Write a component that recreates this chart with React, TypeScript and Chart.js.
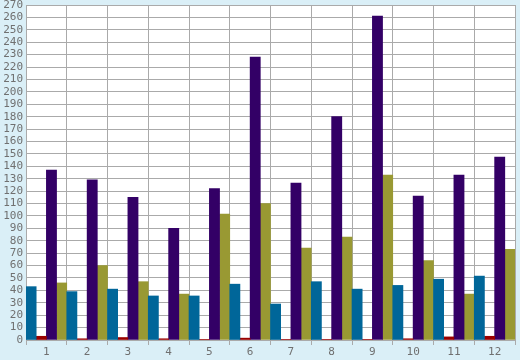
import React, { useEffect, useRef } from "react";
import { Chart, registerables } from "chart.js";

Chart.register(...registerables);

const categories = ["1", "2", "3", "4", "5", "6", "7", "8", "9", "10", "11", "12"];
const blueValues = [43, 39, 41, 35.5, 35.5, 45, 29, 47, 41, 44, 49, 51.5];
const redValues = [3, 1, 2, 1, 0.5, 1.5, 0.5, 0.5, 0.5, 1, 2.5, 3];
const purpleValues = [137, 129, 115, 90, 122, 228, 126.5, 180, 261, 116, 133, 147.5];
const oliveValues = [46, 60, 47, 37, 101.5, 110, 74, 83, 133, 64, 37, 73];

const bgPlugin = {
  id: "bgPlugin",
  beforeDraw(chart: any) {
    const { ctx, chartArea } = chart;
    ctx.save();
    ctx.fillStyle = "#daeff7";
    ctx.fillRect(0, 0, chart.width, chart.height);
    ctx.fillStyle = "#ffffff";
    ctx.fillRect(chartArea.left, chartArea.top, chartArea.right - chartArea.left, chartArea.bottom - chartArea.top);
    ctx.restore();
  },
};

export default function App() {
  const ref = useRef<HTMLCanvasElement>(null);
  useEffect(() => {
    const font = { family: "'DejaVu Sans Mono', monospace", size: 11 };
    const chart = new Chart(ref.current!, {
      type: "bar",
      data: {
        labels: categories,
        datasets: [
          { data: blueValues, backgroundColor: "#006699" },
          { data: redValues, backgroundColor: "#990000" },
          { data: purpleValues, backgroundColor: "#330066" },
          { data: oliveValues, backgroundColor: "#999933" },
        ],
      },
      options: {
        animation: false,
        responsive: false,
        maintainAspectRatio: false,
        layout: { padding: { top: 5, right: 5, left: 0, bottom: 0 } },
        plugins: { legend: { display: false }, tooltip: { enabled: false } },
        datasets: { bar: { categoryPercentage: 1, barPercentage: 1 } },
        scales: {
          x: {
            offset: true,
            grid: { offset: true, color: "#aaaaaa", lineWidth: 1, tickLength: 5, drawTicks: true },
            border: { display: true, color: "#aaaaaa" },
            ticks: { color: "#707070", font, padding: 1, maxRotation: 0 },
            afterFit(scale: any) { scale.height = 20; scale.paddingLeft = 0; scale.paddingRight = 0; },
          },
          y: {
            min: 0,
            max: 270,
            grid: { color: "#aaaaaa", lineWidth: 1, drawTicks: false },
            border: { display: true, color: "#aaaaaa" },
            ticks: { stepSize: 10, color: "#707070", font, padding: 3, autoSkip: false },
            afterFit(scale: any) { scale.width = 26; scale.paddingTop = 0; scale.paddingBottom = 0; },
          },
        },
      },
      plugins: [bgPlugin],
    } as any);
    return () => chart.destroy();
  }, []);
  return (
    <div style={{ position: "absolute", left: 0, top: 0, width: 520, height: 360 }}>
      <canvas ref={ref} width={520} height={360} style={{ display: "block" }} />
    </div>
  );
}
